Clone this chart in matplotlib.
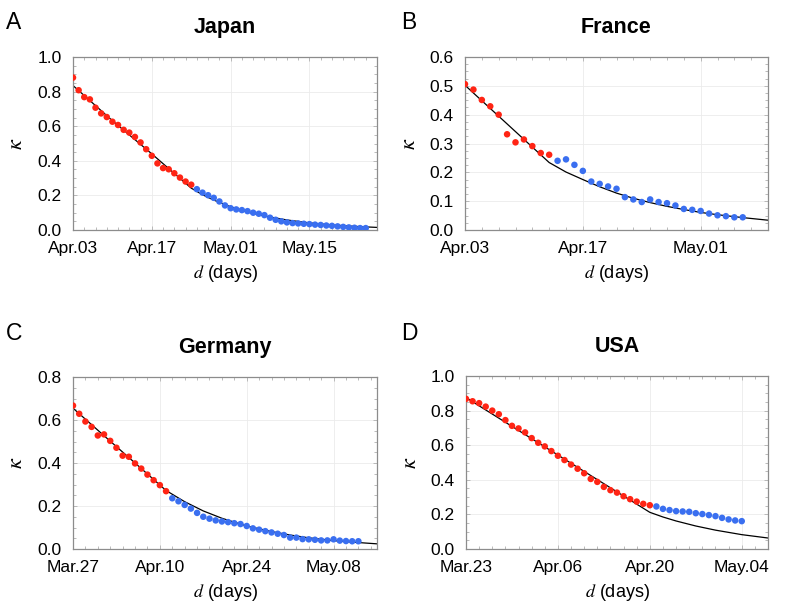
import numpy as np
import matplotlib
matplotlib.use("Agg")
import matplotlib.pyplot as plt
from matplotlib.ticker import MultipleLocator, FormatStrFormatter

plt.rcParams['font.family'] = ['Liberation Sans', 'DejaVu Sans']
plt.rcParams['mathtext.fontset'] = 'stix'

# ---------------- data ----------------
countries = ["Japan", "France", "Germany", "USA"]
letters = ["A", "B", "C", "D"]

# Japan (day 0 = Apr.03)
jp_red = [0.881, 0.808, 0.768, 0.755, 0.707, 0.674, 0.653, 0.626, 0.607, 0.579, 0.563,
          0.538, 0.506, 0.467, 0.429, 0.385, 0.358, 0.351, 0.328, 0.303, 0.280, 0.262]
jp_blue = [0.236, 0.216, 0.201, 0.186, 0.165, 0.142, 0.126, 0.119, 0.115, 0.109, 0.100,
           0.094, 0.086, 0.071, 0.059, 0.050, 0.044, 0.040, 0.038, 0.036, 0.034, 0.031,
           0.029, 0.026, 0.024, 0.021, 0.018, 0.015, 0.013, 0.011, 0.011]
jp_fit_days = [0, 7, 14, 21, 23, 25, 28, 31, 34, 38, 42, 46, 50, 54]
jp_fit_vals = [0.835, 0.632, 0.440, 0.242, 0.204, 0.173, 0.134, 0.104, 0.081, 0.058,
               0.041, 0.029, 0.021, 0.015]
jp_ticks = ["Apr.03", "Apr.17", "May.01", "May.15"]

# France (day 0 = Apr.03)
fr_red = [0.506, 0.487, 0.451, 0.429, 0.400, 0.332, 0.304, 0.314, 0.291, 0.267, 0.261]
fr_blue = [0.240, 0.245, 0.226, 0.205, 0.168, 0.160, 0.151, 0.143, 0.114, 0.106, 0.097,
           0.106, 0.097, 0.093, 0.085, 0.073, 0.070, 0.066, 0.057, 0.051, 0.048, 0.044, 0.044]
fr_fit_days = [0, 10, 12, 14, 16, 18, 20, 22, 24, 26, 28, 30, 33, 36]
fr_fit_vals = [0.502, 0.234, 0.201, 0.175, 0.150, 0.128, 0.110, 0.095, 0.082, 0.071,
               0.061, 0.053, 0.043, 0.034]
fr_ticks = ["Apr.03", "Apr.17", "May.01"]

# Germany (day 0 = Mar.27)
de_red = [0.667, 0.629, 0.593, 0.568, 0.528, 0.533, 0.503, 0.471, 0.434, 0.429, 0.398,
          0.374, 0.346, 0.320, 0.297, 0.269]
de_blue = [0.236, 0.222, 0.205, 0.188, 0.168, 0.150, 0.141, 0.133, 0.128, 0.125, 0.120,
           0.116, 0.107, 0.096, 0.090, 0.083, 0.077, 0.071, 0.065, 0.053, 0.053, 0.046,
           0.045, 0.043, 0.040, 0.040, 0.045, 0.039, 0.037, 0.036, 0.036]
de_fit_days = [0, 5, 10, 15, 18, 21, 24, 28, 32, 35, 38, 42, 45, 49]
de_fit_vals = [0.655, 0.527, 0.400, 0.272, 0.220, 0.177, 0.143, 0.107, 0.081, 0.065,
               0.052, 0.039, 0.032, 0.024]
de_ticks = ["Mar.27", "Apr.10", "Apr.24", "May.08"]

# USA (day 0 = Mar.23)
us_red = [0.868, 0.854, 0.843, 0.823, 0.800, 0.779, 0.745, 0.712, 0.697, 0.674, 0.641,
          0.614, 0.593, 0.566, 0.539, 0.514, 0.488, 0.464, 0.438, 0.405, 0.388, 0.359,
          0.340, 0.326, 0.305, 0.288, 0.274, 0.261, 0.253]
us_blue = [0.246, 0.232, 0.225, 0.219, 0.217, 0.215, 0.207, 0.202, 0.196, 0.190, 0.180,
           0.171, 0.165, 0.161]
us_fit_days = [0, 14, 28, 30, 32, 35, 38, 42, 46]
us_fit_vals = [0.875, 0.543, 0.212, 0.185, 0.162, 0.133, 0.109, 0.083, 0.0635]
us_ticks = ["Mar.23", "Apr.06", "Apr.20", "May.04"]

panels = [
    dict(red=jp_red, blue=jp_blue, fd=jp_fit_days, fv=jp_fit_vals, ticks=jp_ticks,
         xmax=54, ymax=1.0, ystep=0.2),
    dict(red=fr_red, blue=fr_blue, fd=fr_fit_days, fv=fr_fit_vals, ticks=fr_ticks,
         xmax=36, ymax=0.6, ystep=0.1),
    dict(red=de_red, blue=de_blue, fd=de_fit_days, fv=de_fit_vals, ticks=de_ticks,
         xmax=49, ymax=0.8, ystep=0.2),
    dict(red=us_red, blue=us_blue, fd=us_fit_days, fv=us_fit_vals, ticks=us_ticks,
         xmax=46, ymax=1.0, ystep=0.2),
]

W, H = 800, 605
fig = plt.figure(figsize=(W / 100, H / 100), dpi=100)

# axes boxes in pixels: (left, top, right, bottom)
boxes = [(73, 57, 377, 230), (465, 57, 768, 230), (73, 377, 377, 549), (466, 376, 768, 549)]
letter_pos = [(6, 29), (401, 29), (6, 340), (401, 340)]

RED = "#ff2414"
BLUE = "#3a6ff0"
SPINE = "#8c8c8c"

for i, p in enumerate(panels):
    l, t, r, b = boxes[i]
    ax = fig.add_axes([l / W, 1 - b / H, (r - l) / W, (b - t) / H])
    nred = len(p['red'])
    xr = np.arange(0, nred)
    xb = np.arange(nred, nred + len(p['blue']))
    ax.plot(p['fd'], p['fv'], color='black', lw=0.9, zorder=2)
    ax.scatter(xr, p['red'], s=22, color=RED, edgecolors='none', zorder=3)
    ax.scatter(xb, p['blue'], s=22, color=BLUE, edgecolors='none', zorder=3)
    ax.set_xlim(0, p['xmax'])
    ax.set_ylim(0, p['ymax'])
    ax.xaxis.set_minor_locator(MultipleLocator(2))
    ax.set_xticks(np.arange(len(p['ticks'])) * 14)
    ax.set_xticklabels(p['ticks'])
    ax.yaxis.set_major_locator(MultipleLocator(p['ystep']))
    ax.yaxis.set_minor_locator(MultipleLocator(p['ystep'] / 4))
    ax.yaxis.set_major_formatter(FormatStrFormatter('%.1f'))
    ax.grid(True, which='major', color='#ebebeb', lw=0.6)
    ax.set_axisbelow(True)
    for s in ax.spines.values():
        s.set_color(SPINE)
        s.set_linewidth(0.9)
    ax.tick_params(which='both', direction='in', top=True, right=True, color='#b0b0b0',
                   width=0.6)
    ax.tick_params(which='major', length=3, labelsize=12.5, pad=8)
    ax.tick_params(which='minor', length=2.5)
    ax.set_title(countries[i], fontsize=15.5, fontweight='bold', pad=17)
    ax.set_xlabel(r'$d$ (days)', fontsize=13)
    ax.xaxis.set_label_coords(0.5, -33 / (b - t))
    ax.set_ylabel(r'$\kappa$', fontsize=16, va='center')
    ax.yaxis.set_label_coords(-56 / (r - l), 0.5)
    lx, ly = letter_pos[i]
    fig.text(lx / W, 1 - ly / H, letters[i], fontsize=16.5, va='baseline', ha='left')

fig.savefig("out.png", dpi=100)
